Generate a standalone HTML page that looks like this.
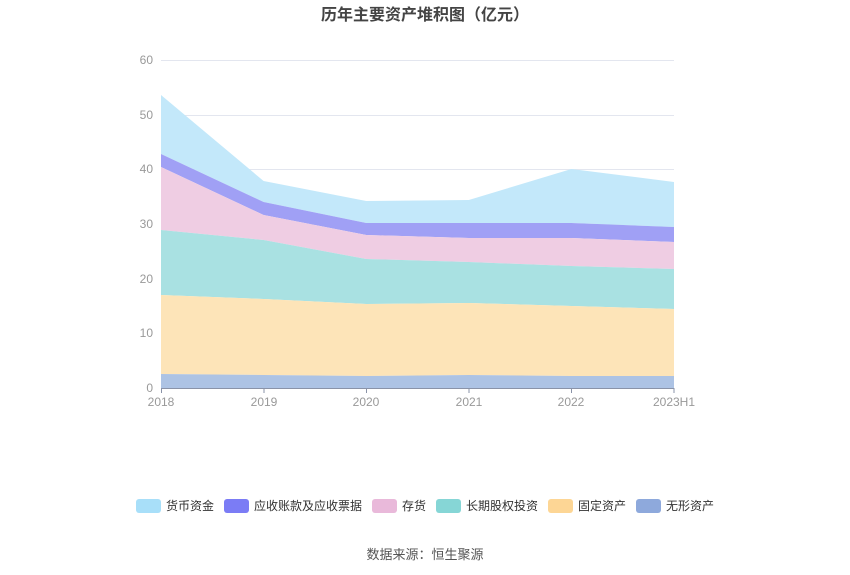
<!DOCTYPE html><html><head><meta charset="utf-8"><style>body{margin:0;background:#fff}svg{display:block;font-family:"Liberation Sans","Noto Sans CJK SC",sans-serif}</style></head><body>
<svg width="850" height="575" viewBox="0 0 850 575">
<text x="425" y="20" text-anchor="middle" font-size="16" font-weight="bold" fill="#444">历年主要资产堆积图（亿元）</text>
<g stroke="#e3e6ef" stroke-width="1">
<line x1="161" x2="674" y1="60.5" y2="60.5"/><line x1="161" x2="674" y1="115.5" y2="115.5"/><line x1="161" x2="674" y1="169.5" y2="169.5"/><line x1="161" x2="674" y1="224.5" y2="224.5"/><line x1="161" x2="674" y1="279.5" y2="279.5"/><line x1="161" x2="674" y1="333.5" y2="333.5"/></g>
<g font-size="12" fill="#999" text-anchor="end">
<text x="153" y="64">60</text><text x="153" y="119">50</text><text x="153" y="173">40</text><text x="153" y="228">30</text><text x="153" y="283">20</text><text x="153" y="337">10</text><text x="153" y="392">0</text></g>
<polygon fill="#c3e8fa" points="161,95 263.6,181 366.2,201 468.8,200 571.4,169 674,182 674,227 571.4,223 468.8,223 366.2,223 263.6,202 161,154"/>
<polygon fill="#a0a0f5" points="161,154 263.6,202 366.2,223 468.8,223 571.4,223 674,227 674,242 571.4,238 468.8,238 366.2,235 263.6,215 161,167"/>
<polygon fill="#efcde3" points="161,167 263.6,215 366.2,235 468.8,238 571.4,238 674,242 674,269 571.4,266 468.8,262 366.2,259 263.6,240 161,230"/>
<polygon fill="#a9e1e2" points="161,230 263.6,240 366.2,259 468.8,262 571.4,266 674,269 674,309 571.4,306 468.8,303 366.2,304 263.6,299 161,295"/>
<polygon fill="#fde4b8" points="161,295 263.6,299 366.2,304 468.8,303 571.4,306 674,309 674,376 571.4,376 468.8,375 366.2,376 263.6,375 161,374"/>
<polygon fill="#adc3e4" points="161,374 263.6,375 366.2,376 468.8,375 571.4,376 674,376 674,388 161,388"/>
<line x1="161" x2="674" y1="388.5" y2="388.5" stroke="#8a93a8"/>
<g stroke="#8a93a8"><line x1="161.5" x2="161.5" y1="388" y2="393"/><line x1="264" x2="264" y1="388" y2="393"/><line x1="366.5" x2="366.5" y1="388" y2="393"/><line x1="469" x2="469" y1="388" y2="393"/><line x1="571.5" x2="571.5" y1="388" y2="393"/><line x1="674" x2="674" y1="388" y2="393"/></g>
<g font-size="12" fill="#999" text-anchor="middle">
<text x="161" y="406">2018</text><text x="264" y="406">2019</text><text x="366" y="406">2020</text><text x="469" y="406">2021</text><text x="571" y="406">2022</text><text x="674" y="406">2023H1</text></g>
<g font-size="12" fill="#333">
<rect x="136" y="499" width="25" height="14" rx="3" fill="#a8dff9"/><text x="166" y="510">货币资金</text>
<rect x="224" y="499" width="25" height="14" rx="3" fill="#7b7cf5"/><text x="254" y="510">应收账款及应收票据</text>
<rect x="372" y="499" width="25" height="14" rx="3" fill="#e9b9da"/><text x="402" y="510">存货</text>
<rect x="436" y="499" width="25" height="14" rx="3" fill="#86d6d6"/><text x="466" y="510">长期股权投资</text>
<rect x="548" y="499" width="25" height="14" rx="3" fill="#fdd695"/><text x="578" y="510">固定资产</text>
<rect x="636" y="499" width="25" height="14" rx="3" fill="#8ea9dc"/><text x="666" y="510">无形资产</text>
</g>
<text x="425" y="559" text-anchor="middle" font-size="13" fill="#555">数据来源：恒生聚源</text>
</svg></body></html>
